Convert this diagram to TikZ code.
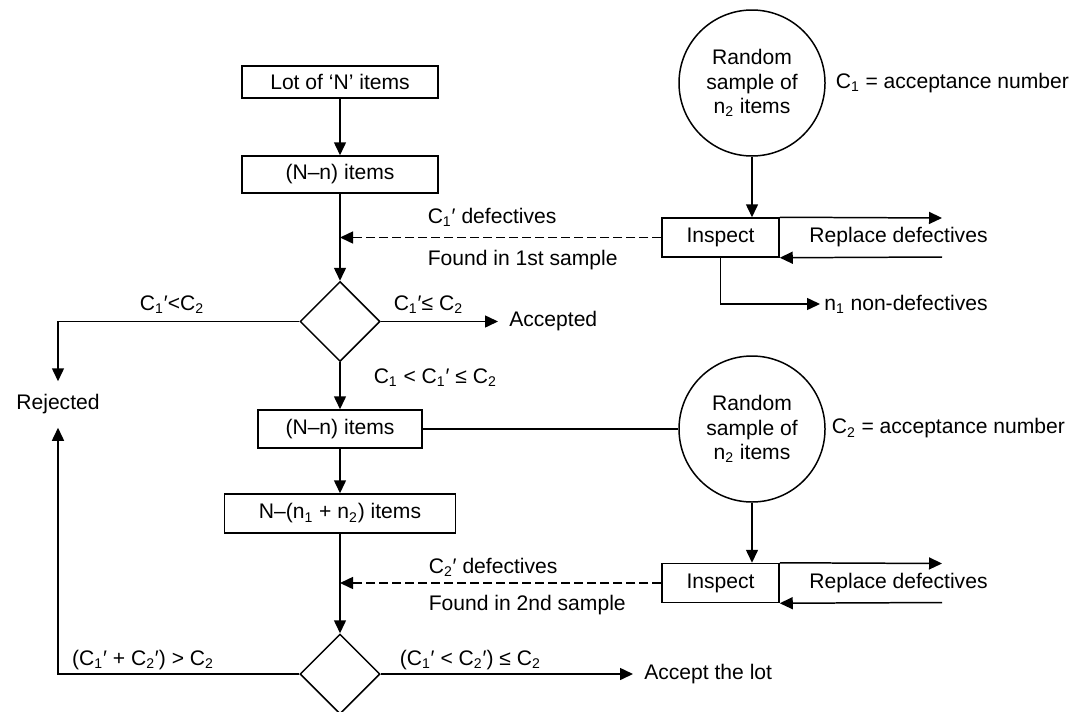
\documentclass[tikz,border=0pt]{standalone}
\usepackage{fontspec}
\setmainfont{Liberation Sans}
\usetikzlibrary{shapes.geometric, arrows.meta}

\tikzset{
	txt/.style={font=\fontsize{12}{14}\selectfont},
	box/.style={draw, txt, inner sep=0pt, minimum height=0.76cm},
	sample/.style={draw, circle, txt, align=center, inner sep=0pt, minimum size=2.92cm},
	test/.style={draw, diamond, aspect=1, inner sep=0pt, minimum width=1.6cm, minimum height=1.6cm},
	lbl/.style={txt, inner sep=2pt},
	result/.style={txt, anchor=west, inner sep=6pt},
	arr/.style={-{Triangle[length=0.26cm,width=0.24cm]}},
	defect/.style={arr, dash pattern=on 5pt off 2.4pt}
}

\begin{document}
\begin{tikzpicture}[line width=0.85pt]
	\useasboundingbox (0,0) rectangle (21.46,14.22);

	% main line of the lot
	\node[box, minimum width=3.92cm, minimum height=0.64cm] (lot) at (6.8,12.58) {Lot of ‘N’ items};
	\node[box, minimum width=3.92cm, minimum height=0.74cm] (rest1) at (6.8,10.73) {(N–n) items};
	\node[test] (test1) at (6.8,7.79) {};
	\node[box, minimum width=3.28cm] (rest2) at (6.8,5.64) {(N–n) items};
	\node[box, minimum width=4.62cm, minimum height=0.78cm] (rest3) at (6.8,3.95) {N–(n\textsubscript{1} + n\textsubscript{2}) items};
	\node[test] (test2) at (6.8,0.74) {};

	\draw[arr] (lot) -- (rest1);
	\draw[arr] (rest1) -- (test1);
	\draw[arr] (test1) -- (rest2);
	\draw[arr] (rest2) -- (rest3);
	\draw[arr] (rest3) -- (test2);

	% first sample
	\node[sample] (samp1) at (15.04,12.56) {Random\\sample of\\n\textsubscript{2} items};
	\node[lbl, anchor=west] (num1) at (16.63,12.56) {C\textsubscript{1} = acceptance number};
	\node[box, minimum width=2.34cm, minimum height=0.78cm] (insp1) at (14.41,9.47) {Inspect};
	\node[lbl] (repl1) at (17.97,9.47) {Replace defectives};
	\coordinate (out1) at (18.84,9.86);
	\coordinate (back1) at (18.84,9.08);
	\node[lbl, anchor=west] (good1) at (16.4,8.14) {n\textsubscript{1} non-defectives};

	\draw[arr] (samp1.south) -- (samp1.south |- insp1.north);
	\draw[arr] (insp1.north east) -- (out1);
	\draw[arr] (back1) -- (insp1.south east);
	\draw[arr] (insp1.south) |- (good1.west);
	\draw[defect] (insp1.west) -- (insp1.west -| rest1);
	\node[lbl, anchor=west] (def1) at (8.47,9.88) {C\textsubscript{1}′ defectives};
	\node[lbl, anchor=west] (found1) at (8.47,9.02) {Found in 1st sample};

	% first decision
	\node[result] (acc) at (9.96,7.79) {Accepted};
	\node[txt, inner sep=0pt, minimum height=0.9cm] (rej) at (1.16,6.13) {Rejected};
	\draw[arr] (test1.east) -- (acc.west);
	\draw[arr] (test1.west) -| (rej.north);
	\node[lbl] (lt1) at (3.44,8.12) {C\textsubscript{1}′<C\textsubscript{2}};
	\node[lbl, anchor=west] (le1) at (7.79,8.12) {C\textsubscript{1}′≤ C\textsubscript{2}};
	\node[lbl, anchor=west] (mid1) at (7.39,6.66) {C\textsubscript{1} < C\textsubscript{1}′ ≤ C\textsubscript{2}};

	% second sample
	\node[sample] (samp2) at (15.04,5.64) {Random\\sample of\\n\textsubscript{2} items};
	\node[lbl, anchor=west] (num2) at (16.55,5.65) {C\textsubscript{2} = acceptance number};
	\node[box, minimum width=2.34cm, minimum height=0.78cm] (insp2) at (14.41,2.56) {Inspect};
	\node[lbl] (repl2) at (17.97,2.56) {Replace defectives};
	\coordinate (out2) at (18.84,2.95);
	\coordinate (back2) at (18.84,2.17);

	\draw (rest2.east) -- (samp2.west);
	\draw[arr] (samp2.south) -- (samp2.south |- insp2.north);
	\draw[arr] (insp2.north east) -- (out2);
	\draw[arr] (back2) -- (insp2.south east);
	\draw[defect] (insp2.west) -- (insp2.west -| rest3);
	\node[lbl, anchor=west] (def2) at (8.49,2.87) {C\textsubscript{2}′ defectives};
	\node[lbl, anchor=west] (found2) at (8.49,2.12) {Found in 2nd sample};

	% second decision
	\node[result] (lot2) at (12.66,0.74) {Accept the lot};
	\draw[arr] (test2.east) -- (lot2.west);
	\draw[arr] (test2.west) -| (rej.south);
	\node[lbl] (gt2) at (2.86,1.02) {(C\textsubscript{1}′ + C\textsubscript{2}′) > C\textsubscript{2}};
	\node[lbl, anchor=west] (le2) at (7.91,1.02) {(C\textsubscript{1}′ < C\textsubscript{2}′) ≤ C\textsubscript{2}};
\end{tikzpicture}
\end{document}
